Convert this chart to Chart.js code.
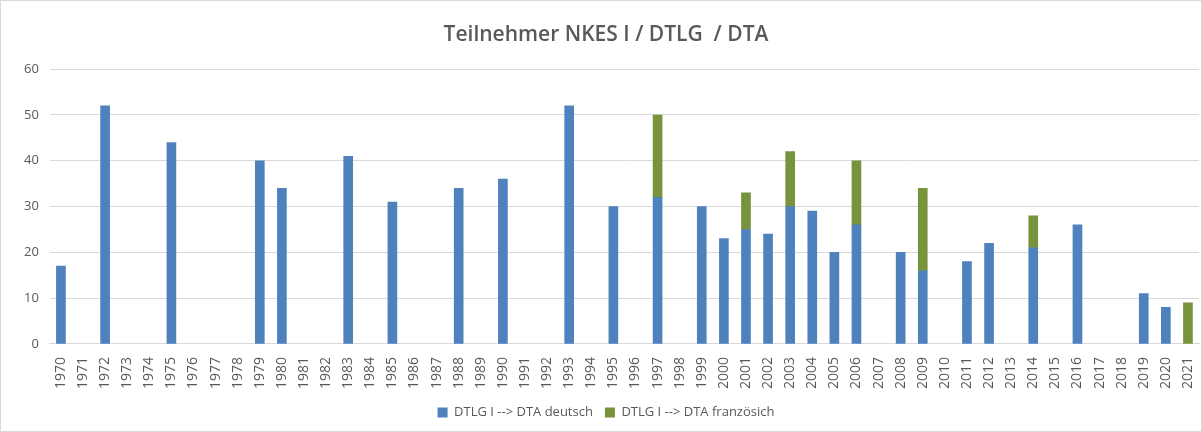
<!DOCTYPE html>
<html>
<head>
<meta charset="utf-8">
<script src="https://cdn.jsdelivr.net/npm/chart.js@4"></script>
<style>
  html, body { margin: 0; padding: 0; background: #fff; }
  #wrap { position: relative; width: 1202px; height: 432px; box-sizing: border-box; border: 1px solid #d9d9d9; }
</style>
</head>
<body>
<div id="wrap"><canvas id="teilnehmerChart"></canvas></div>
<script>
const years = ['1970','1971','1972','1973','1974','1975','1976','1977','1978','1979',
  '1980','1981','1982','1983','1984','1985','1986','1987','1988','1989',
  '1990','1991','1992','1993','1994','1995','1996','1997','1998','1999',
  '2000','2001','2002','2003','2004','2005','2006','2007','2008','2009',
  '2010','2011','2012','2013','2014','2015','2016','2017','2018','2019',
  '2020','2021'];

// DTLG I --> DTA deutsch
const deutsch = [17,null,52,null,null,44,null,null,null,40,
  34,null,null,41,null,31,null,null,34,null,
  36,null,null,52,null,30,null,32,null,30,
  23,25,24,30,29,20,26,null,20,16,
  null,18,22,null,21,null,26,null,null,11,
  8,null];

// DTLG I --> DTA französich
const franzoesisch = [null,null,null,null,null,null,null,null,null,null,
  null,null,null,null,null,null,null,null,null,null,
  null,null,null,null,null,null,null,18,null,null,
  null,8,null,12,null,null,14,null,null,18,
  null,null,null,null,7,null,null,null,null,null,
  null,9];

const yTicks = [0, 10, 20, 30, 40, 50, 60];

const textColor = '#595959';
const fontFamily = "'Open Sans', 'Liberation Sans', sans-serif";

new Chart(document.getElementById('teilnehmerChart'), {
  type: 'bar',
  data: {
    labels: years,
    datasets: [
      {
        label: 'DTLG I --> DTA deutsch',
        data: deutsch,
        backgroundColor: '#4F81BD',
        barThickness: 9
      },
      {
        label: 'DTLG I --> DTA französich',
        data: franzoesisch,
        backgroundColor: '#77933C',
        barThickness: 9
      }
    ]
  },
  options: {
    responsive: true,
    maintainAspectRatio: false,
    animation: false,
    layout: { padding: { left: 12, right: 2, top: 4, bottom: 2 } },
    scales: {
      x: {
        stacked: true,
        grid: { display: false },
        border: { color: '#d9d9d9' },
        // rotated labels need no room on the right, let the plot run to the edge
        afterFit: scale => { scale.paddingRight = 0; },
        ticks: {
          color: textColor,
          font: { family: fontFamily, size: 14 },
          maxRotation: 90,
          minRotation: 90,
          autoSkip: false,
          padding: 5
        }
      },
      y: {
        stacked: true,
        min: yTicks[0],
        max: yTicks[yTicks.length - 1],
        afterBuildTicks: axis => { axis.ticks = yTicks.map(v => ({ value: v })); },
        grid: { color: '#d9d9d9', drawTicks: false },
        border: { display: false },
        ticks: {
          color: textColor,
          font: { family: fontFamily, size: 13 },
          padding: 11
        }
      }
    },
    plugins: {
      title: {
        display: true,
        text: 'Teilnehmer NKES I / DTLG  / DTA',
        color: textColor,
        font: { family: fontFamily, size: 21, weight: '600' },
        padding: { top: 17, bottom: 22 }
      },
      legend: {
        position: 'bottom',
        labels: {
          color: textColor,
          font: { family: fontFamily, size: 13 },
          boxWidth: 10,
          boxHeight: 10,
          padding: 12
        }
      },
      tooltip: { enabled: false }
    }
  }
});
</script>
</body>
</html>
